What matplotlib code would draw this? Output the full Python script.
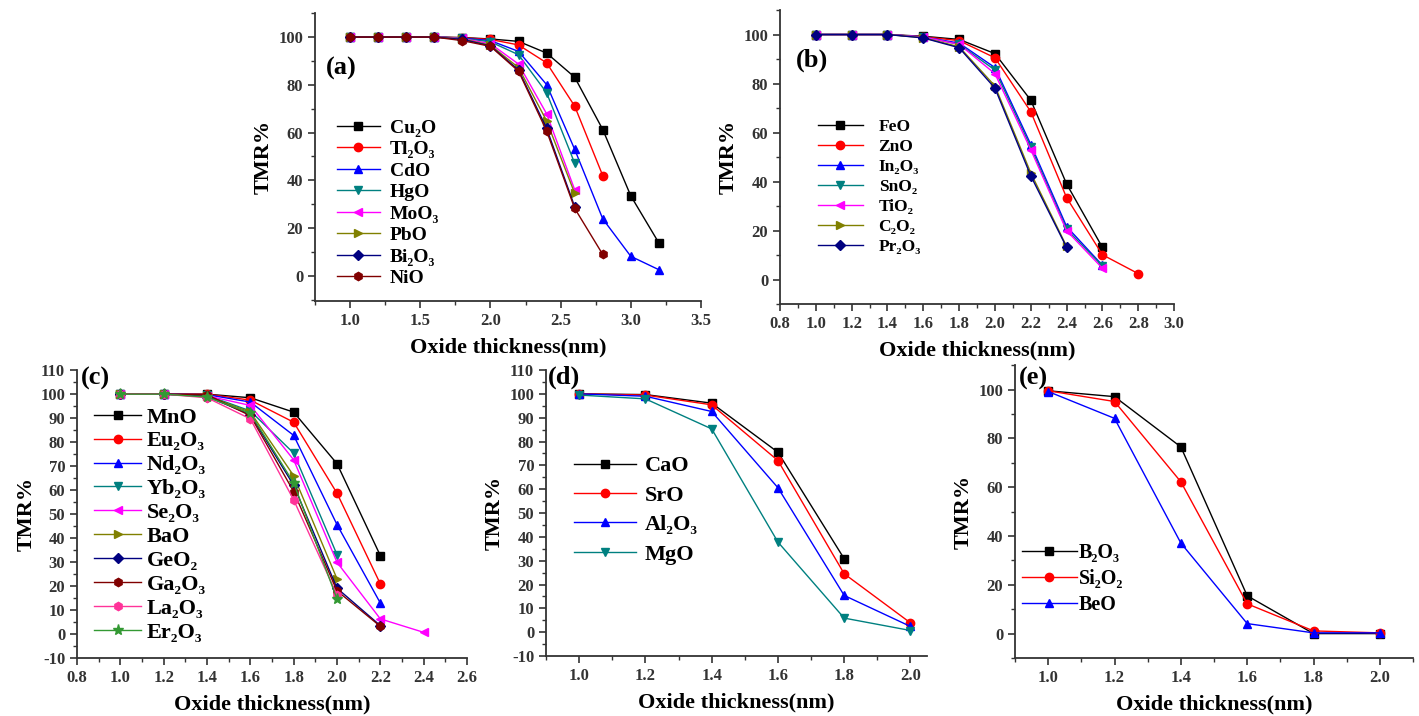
import matplotlib
matplotlib.use("Agg")
import matplotlib.pyplot as plt
from matplotlib.ticker import MultipleLocator

plt.rcParams['font.family'] = ['Liberation Serif', 'DejaVu Serif']
plt.rcParams['font.weight'] = 'bold'
plt.rcParams['axes.labelweight'] = 'bold'
plt.rcParams['axes.unicode_minus'] = False

# ---------------- data ----------------
# panel (a)
xa = [1.0, 1.2, 1.4, 1.6, 1.8, 2.0, 2.2, 2.4, 2.6, 2.8, 3.0, 3.2]
a_labels = ["Cu₂O", "Tl₂O₃", "CdO", "HgO", "MoO₃", "PbO", "Bi₂O₃", "NiO"]
a_Cu2O = [100, 100, 100, 100, 99.8, 99.2, 98.2, 93.3, 83.2, 61.3, 33.5, 13.8]
a_Tl2O3 = [100, 100, 100, 100, 99.7, 99.0, 96.7, 89.2, 71.1, 42.0]
a_CdO = [100, 100, 100, 100, 99.6, 98.5, 94.0, 80.1, 53.0, 23.9, 8.2, 2.6]
a_HgO = [100, 100, 100, 100, 99.5, 98.0, 92.6, 76.7, 47.2]
a_MoO3 = [100, 100, 100, 100, 99.4, 97.2, 88.7, 67.9, 36.1]
a_PbO = [100, 100, 100, 100, 99.2, 96.6, 87.2, 64.9, 34.6]
a_Bi2O3 = [100, 100, 100, 100, 99.0, 96.3, 86.2, 61.8, 29.0]
a_NiO = [100, 100, 100, 100, 98.5, 96.1, 85.7, 60.7, 28.3, 9.0]

# panel (b)
xb = [1.0, 1.2, 1.4, 1.6, 1.8, 2.0, 2.2, 2.4, 2.6, 2.8]
b_labels = ["FeO", "ZnO", "In₂O₃", "SnO₂", "TiO₂", "C₂O₂", "Pr₂O₃"]
b_FeO = [100, 100, 100, 99.3, 98.0, 92.2, 73.2, 39.0, 13.1]
b_ZnO = [100, 100, 100, 99.1, 97.5, 90.5, 68.5, 33.4, 10.1, 2.4]
b_In2O3 = [100, 100, 100, 99.0, 96.5, 86.5, 55.1, 21.6, 5.8]
b_SnO2 = [100, 100, 100, 99.0, 96.0, 85.5, 54.0, 20.5, 5.5]
b_TiO2 = [100, 100, 100, 99.0, 96.0, 84.0, 53.0, 19.9, 4.6]
b_C2O2 = [100, 100, 100, 98.7, 95.0, 79.0, 43.5, 13.5]
b_Pr2O3 = [100, 100, 100, 98.6, 94.6, 78.1, 42.3, 13.1]

# panel (c)
xc = [1.0, 1.2, 1.4, 1.6, 1.8, 2.0, 2.2, 2.4]
c_labels = ["MnO", "Eu₂O₃", "Nd₂O₃", "Yb₂O₃", "Se₂O₃", "BaO", "GeO₂", "Ga₂O₃", "La₂O₃", "Er₂O₃"]
c_MnO = [100, 100, 100, 98.5, 92.5, 71.0, 32.7]
c_Eu2O3 = [100, 100, 100, 97.5, 88.3, 58.7, 20.9]
c_Nd2O3 = [100, 100, 99.8, 96.7, 82.8, 45.6, 12.9]
c_Yb2O3 = [100, 100, 99.5, 93.0, 75.4, 33.1]
c_Se2O3 = [100, 100, 99.3, 95.3, 72.6, 29.9, 6.3, 0.7]
c_BaO = [100, 100, 99.2, 92.5, 66.0, 23.0]
c_GeO2 = [100, 100, 99.0, 91.5, 62.0, 19.1, 3.5]
c_Ga2O3 = [100, 100, 99.8, 91.0, 59.4, 18.0, 3.2]
c_La2O3 = [100, 100, 98.5, 89.7, 55.9, 16.3]
c_Er2O3 = [100, 100, 98.8, 92.0, 63.0, 14.6]

# panel (d)
xd = [1.0, 1.2, 1.4, 1.6, 1.8, 2.0]
d_labels = ["CaO", "SrO", "Al₂O₃", "MgO"]
d_CaO = [100, 99.7, 96.1, 75.5, 30.8]
d_SrO = [100, 99.5, 95.4, 72.0, 24.5, 3.9]
d_Al2O3 = [100, 99.0, 92.6, 60.6, 15.4, 2.4]
d_MgO = [99.5, 97.9, 85.3, 37.8, 5.9, 0.7]

# panel (e)
xe = [1.0, 1.2, 1.4, 1.6, 1.8, 2.0]
e_labels = ["B₂O₃", "Si₂O₂", "BeO"]
e_B2O3 = [99.5, 97.1, 76.5, 15.5, 0.0, 0.0]
e_Si2O2 = [99.5, 95.1, 62.2, 12.2, 1.1, 0.3]
e_BeO = [99.2, 88.2, 37.1, 4.1, 0.3, 0.3]

# ---------------- styles ----------------
COLORS = ['#000000', '#FF0000', '#0000FF', '#008080', '#FF00FF',
          '#808000', '#000080', '#800000', '#FF3399', '#339933']
MARKERS = ['s', 'o', '^', 'v', '<', '>', 'D', 'h', 'h', '*']

fig = plt.figure(figsize=(14.19, 7.16), dpi=100)


def setup(ax, xlim, ylim, xmaj, xmin, ymaj, ymin, label, lx, ly):
    ax.set_xlim(*xlim)
    ax.set_ylim(*ylim)
    ax.xaxis.set_major_locator(MultipleLocator(xmaj))
    ax.xaxis.set_minor_locator(MultipleLocator(xmin))
    ax.yaxis.set_major_locator(MultipleLocator(ymaj))
    ax.yaxis.set_minor_locator(MultipleLocator(ymin))
    for s in ['top', 'right']:
        ax.spines[s].set_visible(False)
    for s in ['left', 'bottom']:
        ax.spines[s].set_linewidth(1.3)
        ax.spines[s].set_color('#333333')
    ax.tick_params(which='major', direction='out', length=5, width=1.2,
                   labelsize=12, colors='#333333', labelcolor='#333333')
    ax.tick_params(which='minor', direction='out', length=3, width=1.0, colors='#333333')
    for t in ax.get_xticklabels() + ax.get_yticklabels():
        t.set_fontweight('bold')
    ax.set_xlabel("Oxide thickness(nm)", fontsize=16, fontweight='bold', labelpad=6)
    ax.set_ylabel("TMR%", fontsize=16, fontweight='bold', labelpad=3)
    ax.text(lx, ly, label, transform=ax.transAxes, fontsize=19,
            fontweight='bold', va='center', ha='left')


def plot_series(ax, x, series, labels):
    for i, (y, lab) in enumerate(zip(series, labels)):
        ms = 6 if MARKERS[i] not in ('*', 'D') else (8 if MARKERS[i] == '*' else 4.8)
        ax.plot(x[:len(y)], y, color=COLORS[i], marker=MARKERS[i], lw=1.0,
                ms=ms, label=lab)


def legend(ax, x, y, fs, spacing, hl, pad):
    ax.legend(loc='upper left', bbox_to_anchor=(x, y), frameon=False,
              labelspacing=spacing, handlelength=hl,
              handletextpad=pad, borderpad=0, borderaxespad=0,
              prop={'family': ['Liberation Serif', 'DejaVu Serif'],
                    'weight': 'bold', 'size': fs})


# (a)
ax = fig.add_axes([0.222, 0.5796, 0.272, 0.402])
plot_series(ax, xa, [a_Cu2O, a_Tl2O3, a_CdO, a_HgO, a_MoO3, a_PbO, a_Bi2O3, a_NiO], a_labels)
setup(ax, (0.75, 3.5), (-10.5, 110), 0.5, 0.25, 20, 10, "(a)", 0.028, 0.809)
legend(ax, 0.057, 0.632, 14, 0.2, 2.2, 0.5)

# (b)
ax = fig.add_axes([0.5497, 0.5754, 0.2777, 0.4106])
plot_series(ax, xb, [b_FeO, b_ZnO, b_In2O3, b_SnO2, b_TiO2, b_C2O2, b_Pr2O3], b_labels)
setup(ax, (0.8, 3.0), (-10, 110), 0.2, 0.1, 20, 10, "(b)", 0.04, 0.83)
legend(ax, 0.096, 0.629, 12.5, 0.22, 2.6, 0.9)

# (c)
ax = fig.add_axes([0.0543, 0.081, 0.2748, 0.402])
plot_series(ax, xc, [c_MnO, c_Eu2O3, c_Nd2O3, c_Yb2O3, c_Se2O3, c_BaO,
                     c_GeO2, c_Ga2O3, c_La2O3, c_Er2O3], c_labels)
setup(ax, (0.8, 2.6), (-10, 110), 0.2, 0.1, 10, 5, "(c)", 0.01, 0.972)
legend(ax, 0.044, 0.872, 16, 0.15, 2.1, 0.25)

# (d)
ax = fig.add_axes([0.3848, 0.0838, 0.2685, 0.3994])
plot_series(ax, xd, [d_CaO, d_SrO, d_Al2O3, d_MgO], d_labels)
setup(ax, (0.9, 2.05), (-10, 110), 0.2, 0.1, 10, 5, "(d)", 0.005, 0.975)
legend(ax, 0.073, 0.70, 16, 0.4, 2.8, 0.4)

# (e)
ax = fig.add_axes([0.7153, 0.081, 0.2805, 0.409])
plot_series(ax, xe, [e_B2O3, e_Si2O2, e_BeO], e_labels)
setup(ax, (0.9, 2.1), (-10, 110), 0.2, 0.1, 20, 10, "(e)", 0.01, 0.956)
legend(ax, 0.018, 0.392, 14.5, 0.3, 2.7, 0.1)

fig.savefig("out.png", dpi=100)
